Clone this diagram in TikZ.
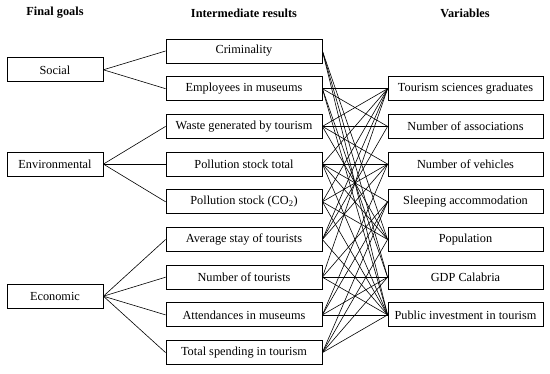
\documentclass[tikz,border=0pt]{standalone}
\usepackage{fontspec}
\setmainfont{Liberation Serif}
\begin{document}
\begin{tikzpicture}[x=1pt,y=-1pt,
  txt/.style={font=\fontsize{12.3}{14}\selectfont},
  box/.style={draw,line width=0.8pt,minimum height=24pt,inner sep=0pt,txt},
  gbox/.style={box,minimum width=96pt},
  ibox/.style={box,minimum width=156pt},
  vbox/.style={box,minimum width=155pt},
  hdr/.style={font=\fontsize{12.3}{14}\selectfont\bfseries},
  link/.style={line width=0.6pt}]
\useasboundingbox (0,0) rectangle (550,374);
% headers
\node[hdr] (h1) at (55,13) {Final goals};
\node[hdr] (h2) at (244,13) {Intermediate results};
\node[hdr] (h3) at (465,13) {Variables};
% final goals
\node[gbox] (soc) at (55,69.8) {Social};
\node[gbox] (env) at (55,164.1) {Environmental};
\node[gbox] (eco) at (55,296.2) {Economic};
% intermediate results
\node[ibox] (crim) at (244,51) {Criminality};
\node[ibox] (emp) at (244,88.7) {Employees in museums};
\node[ibox] (waste) at (244,126.4) {Waste generated by tourism};
\node[ibox] (polt) at (244,164.1) {Pollution stock total};
\node[ibox] (polc) at (244,201.8) {Pollution stock (CO\textsubscript{2})};
\node[ibox] (stay) at (244,239.5) {Average stay of tourists};
\node[ibox] (ntour) at (244,277.2) {Number of tourists};
\node[ibox] (att) at (244,314.9) {Attendances in museums};
\node[ibox] (spend) at (244,352.6) {Total spending in tourism};
% variables
\node[vbox] (grad) at (465.5,88.7) {Tourism sciences graduates};
\node[vbox] (assoc) at (465.5,126.4) {Number of associations};
\node[vbox] (veh) at (465.5,164.1) {Number of vehicles};
\node[vbox] (sleep) at (465.5,201.8) {Sleeping accommodation};
\node[vbox] (pop) at (465.5,239.5) {Population};
\node[vbox] (gdp) at (465.5,277.2) {GDP Calabria};
\node[vbox] (pub) at (465.5,314.9) {Public investment in tourism};
% goals -> intermediate
\foreach \a/\b in {soc/crim,soc/emp,env/waste,env/polt,env/polc,eco/stay,eco/ntour,eco/att,eco/spend}
  \draw[link] (\a.east) -- (\b.west);
% intermediate -> variables
\foreach \a/\b in {
  crim/pop,crim/gdp,crim/pub,
  emp/grad,emp/assoc,emp/gdp,emp/pub,
  waste/grad,waste/assoc,waste/veh,waste/pop,
  polt/grad,polt/veh,polt/sleep,polt/pop,polt/pub,
  polc/grad,polc/veh,polc/pop,polc/pub,
  stay/grad,stay/assoc,stay/veh,stay/pub,
  ntour/grad,ntour/sleep,ntour/gdp,ntour/pub,
  att/veh,att/sleep,att/gdp,att/pub,
  spend/sleep,spend/pop,spend/gdp,spend/pub}
  \draw[link] (\a.east) -- (\b.west);
\end{tikzpicture}
\end{document}
